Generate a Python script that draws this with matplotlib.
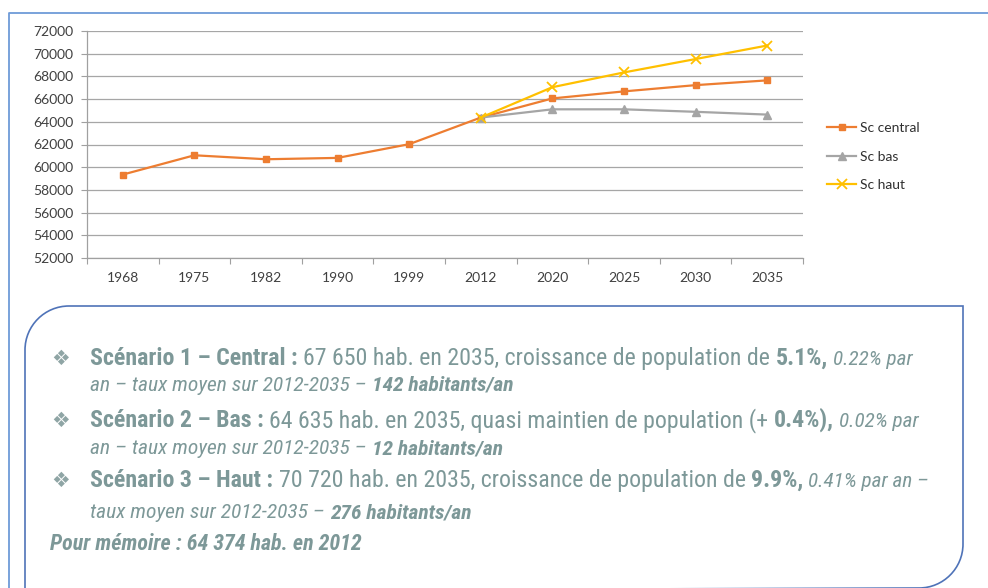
import matplotlib.pyplot as plt
import matplotlib as mpl
from matplotlib import font_manager
from matplotlib.path import Path
from matplotlib.patches import PathPatch
from matplotlib.lines import Line2D
from matplotlib.transforms import Affine2D

W, H = 988, 588
dpi = 100

# Population par scénario
annees = ['1968', '1975', '1982', '1990', '1999', '2012', '2020', '2025', '2030', '2035']
sc_central = [59350, 61050, 60700, 60820, 62030, 64374, 66060, 66680, 67230, 67650]
annees_proj = ['2012', '2020', '2025', '2030', '2035']
sc_bas = [64374, 65100, 65100, 64880, 64635]
sc_haut = [64374, 67050, 68350, 69530, 70720]
graduations = list(range(52000, 72001, 2000))

# Texte du cartouche : (texte, graisse, style, taille)
R, B, I, BI = ('normal', 'normal'), ('bold', 'normal'), ('normal', 'italic'), ('bold', 'italic')
lignes = [
    (True, [('Scénario 1 – Central :', B, 15), (' 67 650 hab. en 2035, croissance de population de ', R, 15),
            ('5.1%,', B, 15), (' 0.22% par', I, 13.3)]),
    (False, [('an – taux moyen sur 2012-2035 – ', I, 13.5), ('142 habitants/an', BI, 13.5)]),
    (True, [('Scénario 2 – Bas :', B, 15), (' 64 635 hab. en 2035, quasi maintien de population (+ ', R, 15),
            ('0.4%),', B, 15), (' 0.02% par', I, 13.3)]),
    (False, [('an – taux moyen sur 2012-2035 – ', I, 13.5), ('12 habitants/an', BI, 13.5)]),
    (True, [('Scénario 3 – Haut :', B, 15), (' 70 720 hab. en 2035, croissance de population de ', R, 15),
            ('9.9%,', B, 15), (' 0.41% par an –', I, 13.3)]),
    (False, [('taux moyen sur 2012-2035 – ', I, 13.5), ('276 habitants/an', BI, 13.5)]),
    (None, [('Pour mémoire : 64 374 hab. en 2012', BI, 13.8)]),
]
lignes_y = [365, 391, 427, 454, 487, 518, 550]

noms = {f.name for f in font_manager.fontManager.ttflist}
police_texte = next((n for n in ['Liberation Sans Narrow', 'Arial Narrow', 'Roboto Condensed']
                     if n in noms), 'Liberation Sans')
police_graph = 'Lato' if 'Lato' in noms else 'DejaVu Sans'

mpl.rcParams['font.family'] = police_graph

fig = plt.figure(figsize=(W / dpi, H / dpi), dpi=dpi)
px = Affine2D().scale(1 / W, -1 / H).translate(0, 1) + fig.transFigure

ax = fig.add_axes([87 / W, 1 - 258 / H, (803 - 87) / W, (258 - 31) / H])
x_tout = list(range(len(annees)))
x_proj = [annees.index(a) for a in annees_proj]

l1, = ax.plot(x_tout, sc_central, color='#ED7D31', lw=1.6, marker='s', ms=5, label='Sc central', zorder=3)
l2, = ax.plot(x_proj, sc_bas, color='#A5A5A5', lw=1.6, marker='^', ms=6, label='Sc bas', zorder=3)
l3, = ax.plot(x_proj, sc_haut, color='#FFC000', lw=1.6, marker='x', ms=7, mew=1.3, label='Sc haut', zorder=3)

ax.set_xlim(-0.5, len(annees) - 0.5)
ax.set_ylim(graduations[0], graduations[-1])
ax.set_yticks(graduations)
ax.set_yticklabels([str(g) for g in graduations])
ax.set_xticks([i - 0.5 for i in range(len(annees) + 1)])
ax.set_xticklabels([])
ax.set_xticks(x_tout, minor=True)
ax.set_xticklabels(annees, minor=True)
ax.tick_params(axis='x', which='major', length=4, width=0.8, color='#A0A0A0', direction='out')
ax.tick_params(axis='x', which='minor', length=0, pad=10, labelsize=10, labelcolor='#404040')
ax.tick_params(axis='y', length=4, width=0.8, color='#A0A0A0', pad=6, labelsize=10, labelcolor='#404040')
ax.grid(axis='y', color='#A6A6A6', lw=0.9)
ax.set_axisbelow(True)
for s in ['top', 'right']:
    ax.spines[s].set_visible(False)
for s in ['left', 'bottom']:
    ax.spines[s].set_color('#A0A0A0')
    ax.spines[s].set_linewidth(0.9)

fig.legend(handles=[l1, l2, l3], loc='upper left', bbox_to_anchor=(827 / W, 1 - 122 / H),
           frameon=False, fontsize=10, handlelength=2.1, handletextpad=0.3, labelspacing=1.2,
           borderpad=0, borderaxespad=0, labelcolor='#303030')

# Cadre bleu autour du graphique
fig.add_artist(Line2D([9, 9, W + 2], [H + 2, 13, 13], transform=px, color='#6E9BD8', lw=1.3))

# Cartouche aux coins arrondis
x0, y0, x1, y1, r, k = 25, 306, 963, 588, 44, 0.5523
verts = [(x0, y1 + 3), (x0, y0 + r),
         (x0, y0 + r - k * r), (x0 + r - k * r, y0), (x0 + r, y0),
         (x1, y0), (x1, y1 - r),
         (x1, y1 - r + k * r), (x1 - r + k * r, y1), (x1 - r, y1),
         (x0, y1 + 3)]
codes = [Path.MOVETO, Path.LINETO, Path.CURVE4, Path.CURVE4, Path.CURVE4,
         Path.LINETO, Path.LINETO, Path.CURVE4, Path.CURVE4, Path.CURVE4, Path.LINETO]
fig.add_artist(PathPatch(Path(verts, codes), transform=px, facecolor='none',
                         edgecolor='#4F73B8', lw=1.2))

fig.canvas.draw()
renderer = fig.canvas.get_renderer()


def avance(s, prop):
    # largeur d'avance du texte, espaces compris
    w1 = renderer.get_text_width_height_descent('|' + s + '|', prop, ismath=False)[0]
    w2 = renderer.get_text_width_height_descent('||', prop, ismath=False)[0]
    return w1 - w2


def fprop(style, taille, ech):
    return font_manager.FontProperties(family=police_texte, weight=style[0], style=style[1],
                                       size=taille * ech)


# mise à l'échelle pour que la première ligne occupe la largeur du cartouche
larg = sum(avance(t, fprop(st, tl, 1)) for t, st, tl in lignes[0][1])
ech = (913 - 90) / larg

couleur = '#7D9898'
for (puce, runs), yb in zip(lignes, lignes_y):
    x = 50 if puce is None else 90
    if puce:
        fig.text(61, yb, '❖', transform=px, ha='center', va='baseline', fontsize=15,
                 color='#8FA5A5', family='DejaVu Sans')
    for t, st, tl in runs:
        p = fprop(st, tl, ech)
        t_net = t.strip(' ')
        gauche = len(t) - len(t.lstrip(' '))
        x += gauche * avance(' ', p)
        fig.text(x, yb, t_net, transform=px, ha='left', va='baseline', fontproperties=p, color=couleur)
        x += avance(t_net, p) + (len(t) - len(t.rstrip(' '))) * avance(' ', p)

fig.savefig('out.png', dpi=dpi)
